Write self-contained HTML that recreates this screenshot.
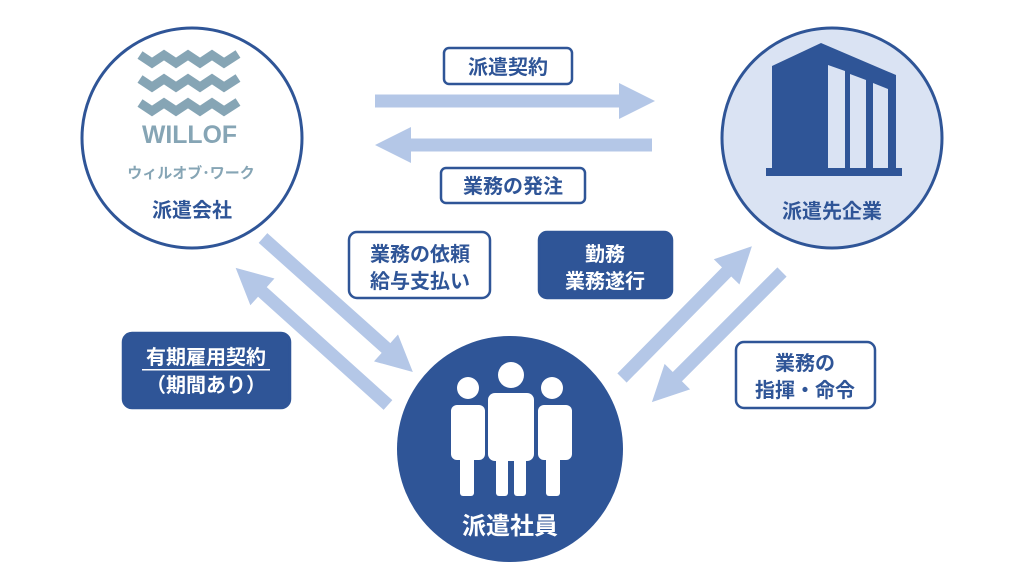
<!DOCTYPE html>
<html><head><meta charset="utf-8"><style>
html,body{margin:0;padding:0;background:#fff;width:1024px;height:576px;overflow:hidden}
text{font-family:"Liberation Sans","Noto Sans CJK JP",sans-serif;font-weight:bold}
</style></head><body>
<svg width="1024" height="576" viewBox="0 0 1024 576" xmlns="http://www.w3.org/2000/svg">
<g fill="#b4c7e7">
<path d="M375,94.5 H619 V83 L655,101 L619,119 V107.5 H375Z"/>
<path d="M652,138.5 H411 V127 L375,145 L411,163 V151.5 H652Z"/>
<g transform="translate(263,238) rotate(41.8)"><path d="M0,-6.5 H165 V-18 L201,0 L165,18 V6.5 H0Z"/></g>
<g transform="translate(388,405) rotate(222)"><path d="M0,-6.5 H169 V-18 L205,0 L169,18 V6.5 H0Z"/></g>
<g transform="translate(622,378) rotate(-45.4)"><path d="M0,-6.5 H149 V-18 L185,0 L149,18 V6.5 H0Z"/></g>
<g transform="translate(782,272) rotate(135)"><path d="M0,-6.5 H148 V-18 L184,0 L148,18 V6.5 H0Z"/></g>
</g>
<!-- left circle -->
<circle cx="192" cy="138" r="110" fill="#fff" stroke="#2f5597" stroke-width="3"/>
<g fill="none" stroke="#86a5b5" stroke-width="9" stroke-linejoin="miter">
<polyline points="140,55 152,63 164,55 176,63 188,55 200,63 212,55 224,63 238,54"/>
<polyline points="140,79 152,87 164,79 176,87 188,79 200,87 212,79 224,87 238,78"/>
<polyline points="140,103 152,111 164,103 176,111 188,103 200,111 212,103 224,111 238,102"/>
</g>
<text x="142" y="143" font-size="25" fill="#86a5b5" textLength="95" lengthAdjust="spacingAndGlyphs">WILLOF</text>
<text x="191" y="178" font-size="15" fill="#86a5b5" text-anchor="middle">ウィルオブ･ワーク</text>
<text x="192" y="217" font-size="20" fill="#2f5597" text-anchor="middle" font-weight="normal">派遣会社</text>
<!-- right circle -->
<circle cx="832" cy="138" r="110" fill="#dae3f3" stroke="#2f5597" stroke-width="3"/>
<path d="M772,66 L821,43 L896,75 V168 H772Z" fill="#2f5597"/>
<rect x="766" y="168" width="136" height="8" fill="#2f5597"/>
<g fill="#dae3f3"><path d="M828,65 L845,71 V168 H828Z"/><path d="M850,74 L866,80 V168 H850Z"/><path d="M873,83 L888,89 V168 H873Z"/></g>
<text x="832" y="218" font-size="20" fill="#2f5597" text-anchor="middle" font-weight="normal">派遣先企業</text>
<!-- bottom circle -->
<circle cx="510" cy="449" r="113" fill="#2f5597"/>
<g fill="#fff">
<circle cx="511" cy="375" r="13"/><circle cx="468" cy="388" r="11"/><circle cx="552" cy="388" r="11"/>
<rect x="488" y="393" width="46" height="68" rx="7"/><rect x="496" y="450" width="12" height="46" rx="3"/><rect x="514" y="450" width="12" height="46" rx="3"/>
<rect x="451" y="405" width="34" height="55" rx="6"/><rect x="460" y="450" width="14" height="46" rx="3"/>
<rect x="538" y="405" width="34" height="55" rx="6"/><rect x="546" y="450" width="14" height="46" rx="3"/>
</g>
<text x="510" y="534" font-size="24" fill="#fff" text-anchor="middle" font-weight="normal">派遣社員</text>
<!-- labels -->
<g stroke="#2f5597" stroke-width="2.5">
<rect x="444" y="48" width="128" height="36" rx="5" fill="#fff"/>
<rect x="441" y="168" width="144" height="35" rx="5" fill="#fff"/>
<rect x="349" y="232" width="141" height="66" rx="8" fill="#fff"/>
<rect x="736" y="342" width="139" height="66" rx="8" fill="#fff"/>
<rect x="539" y="232" width="133" height="66" rx="8" fill="#2f5597"/>
<rect x="123" y="333" width="167" height="75" rx="9" fill="#2f5597"/>
</g>
<g font-size="20" fill="#2f5597" text-anchor="middle">
<text x="508" y="74">派遣契約</text>
<text x="513" y="193">業務の発注</text>
<text x="420" y="261">業務の依頼</text>
<text x="420" y="288">給与支払い</text>
<text x="805" y="370">業務の</text>
<text x="805" y="397">指揮・命令</text>
</g>
<g font-size="20" fill="#fff" text-anchor="middle">
<text x="605" y="261">勤務</text>
<text x="605" y="288">業務遂行</text>
<text x="206" y="364">有期雇用契約</text>
<text x="206" y="392">（期間あり）</text>
</g>
<rect x="142" y="369" width="128" height="1.5" fill="#fff"/>
</svg>
</body></html>
